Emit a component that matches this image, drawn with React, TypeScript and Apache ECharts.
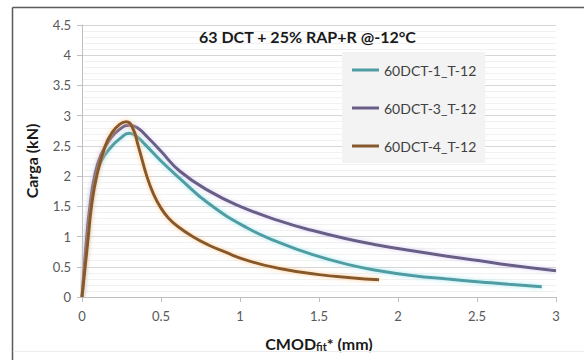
import React, { useEffect, useRef } from "react";
import * as echarts from "echarts";

const seriesNames = ["60DCT-1_T-12", "60DCT-3_T-12", "60DCT-4_T-12"];

const dct1: [number, number][] = [
  [0, 0], [0.01, 0.3], [0.03, 0.9], [0.05, 1.4], [0.08, 1.92], [0.12, 2.24], [0.18, 2.47],
  [0.24, 2.62], [0.3, 2.71], [0.34, 2.67], [0.4, 2.52], [0.5, 2.25], [0.62, 1.96], [0.8, 1.55],
  [1.04, 1.15], [1.25, 0.9], [1.46, 0.7], [1.68, 0.54], [1.89, 0.43], [2.1, 0.35],
  [2.3, 0.3], [2.52, 0.25], [2.7, 0.21], [2.91, 0.17],
];

const dct3: [number, number][] = [
  [0, 0], [0.01, 0.35], [0.03, 1.0], [0.05, 1.5], [0.08, 2.0], [0.12, 2.35], [0.18, 2.62],
  [0.24, 2.78], [0.3, 2.84], [0.35, 2.8], [0.42, 2.63], [0.5, 2.41], [0.62, 2.08], [0.8, 1.76],
  [1.0, 1.5], [1.25, 1.26], [1.46, 1.1], [1.68, 0.96], [1.85, 0.87], [2.1, 0.76],
  [2.3, 0.68], [2.52, 0.6], [2.7, 0.53], [3.0, 0.435],
];

const dct4: [number, number][] = [
  [0, 0], [0.01, 0.25], [0.02, 0.5], [0.04, 1.0], [0.06, 1.5], [0.093, 2.0], [0.146, 2.49],
  [0.19, 2.72], [0.24, 2.86], [0.28, 2.9], [0.32, 2.8], [0.356, 2.5], [0.41, 2.0],
  [0.45, 1.72], [0.5, 1.47], [0.55, 1.3], [0.6, 1.18], [0.7, 1.0], [0.8, 0.86], [0.9, 0.75],
  [1.04, 0.61], [1.25, 0.47], [1.5, 0.37], [1.7, 0.32], [1.88, 0.285],
];

const lineColors = ["#4f9da3", "#685e87", "#87582c"];
const glowColors = ["rgba(140,225,235,0.8)", "rgba(200,175,235,0.6)", "rgba(255,190,120,0.8)"];

const titleText = "63 DCT + 25% RAP+R @-12°C";
const yAxisName = "Carga (kN)";

const FONT = "Lato, 'Open Sans', sans-serif";

export default function App() {
  const ref = useRef<HTMLDivElement>(null);
  useEffect(() => {
    if (!ref.current) return;
    const chart = echarts.init(ref.current, undefined, { renderer: "svg" });
    const datasets = [dct1, dct3, dct4];
    chart.setOption({
      animation: false,
      backgroundColor: "#ffffff",
      textStyle: { fontFamily: FONT },
      title: {
        text: titleText,
        left: 199,
        top: 28,
        padding: 0,
        textStyle: { fontSize: 16, fontWeight: "bold", color: "#1a1a1a", fontFamily: FONT },
      },
      legend: {
        orient: "vertical",
        left: 342,
        top: 52,
        backgroundColor: "#f3f3f3",
        padding: [10, 9, 9, 10],
        itemGap: 22,
        itemWidth: 27,
        itemHeight: 3,
        icon: "rect",
        data: seriesNames,
        textStyle: { fontSize: 14, color: "#404040", fontFamily: FONT, lineHeight: 16 },
      },
      grid: { left: 82, right: 28, top: 25, bottom: 63, containLabel: false },
      xAxis: {
        type: "value",
        min: 0,
        max: 3,
        interval: 0.5,
        name: "{a|CMOD}{s|fit}{a|* (mm)}",
        nameLocation: "middle",
        nameGap: 37,
        nameTextStyle: {
          rich: {
            a: { fontSize: 16, fontWeight: "bold", color: "#1a1a1a", fontFamily: FONT },
            s: { fontSize: 11, fontWeight: "bold", color: "#1a1a1a", fontFamily: FONT, verticalAlign: "bottom", padding: [7, 0, 0, 0] },
          },
        },
        axisLine: { show: true, lineStyle: { color: "#bfbfbf", width: 1 } },
        axisTick: { show: true, length: 5, lineStyle: { color: "#bfbfbf" } },
        axisLabel: { fontSize: 13, color: "#595959", margin: 12, fontFamily: FONT },
        splitLine: { show: false },
      },
      yAxis: {
        type: "value",
        min: 0,
        max: 4.5,
        interval: 0.5,
        name: yAxisName,
        nameLocation: "middle",
        nameGap: 43,
        nameRotate: 90,
        nameTextStyle: { fontSize: 16, fontWeight: "bold", color: "#1a1a1a", fontFamily: FONT },
        axisLine: { show: true, lineStyle: { color: "#bfbfbf", width: 1 } },
        axisTick: { show: true, length: 5, lineStyle: { color: "#bfbfbf" } },
        axisLabel: { fontSize: 13, color: "#595959", margin: 11, fontFamily: FONT },
        splitLine: { show: true, lineStyle: { color: "#d6d6d6", width: 1 } },
        minorTick: { show: false, splitNumber: 5 },
        minorSplitLine: { show: true, lineStyle: { color: "#f1f1f1", width: 1 } },
      },
      graphic: [
        { type: "line", shape: { x1: 12.5, y1: 7.5, x2: 584, y2: 7.5 }, style: { stroke: "#5a5a5a", lineWidth: 1.5 }, z: 100 },
        { type: "line", shape: { x1: 12.5, y1: 7.5, x2: 12.5, y2: 360 }, style: { stroke: "#5a5a5a", lineWidth: 1.5 }, z: 100 },
        { type: "line", shape: { x1: 13, y1: 351.5, x2: 584, y2: 351.5 }, style: { stroke: "#ececec", lineWidth: 1 }, z: 100 },
      ],
      series: datasets.map((d, i) => ({
        name: seriesNames[i],
        type: "line",
        data: d,
        smooth: 0.5,
        showSymbol: false,
        symbol: "none",
        color: lineColors[i],
        lineStyle: {
          color: lineColors[i],
          width: 3,
          shadowColor: glowColors[i],
          shadowBlur: 4,
        },
        z: 2 + i,
      })),
    });
    return () => chart.dispose();
  }, []);
  return <div ref={ref} style={{ width: 584, height: 360, position: "absolute", left: 0, top: 0 }} />;
}
